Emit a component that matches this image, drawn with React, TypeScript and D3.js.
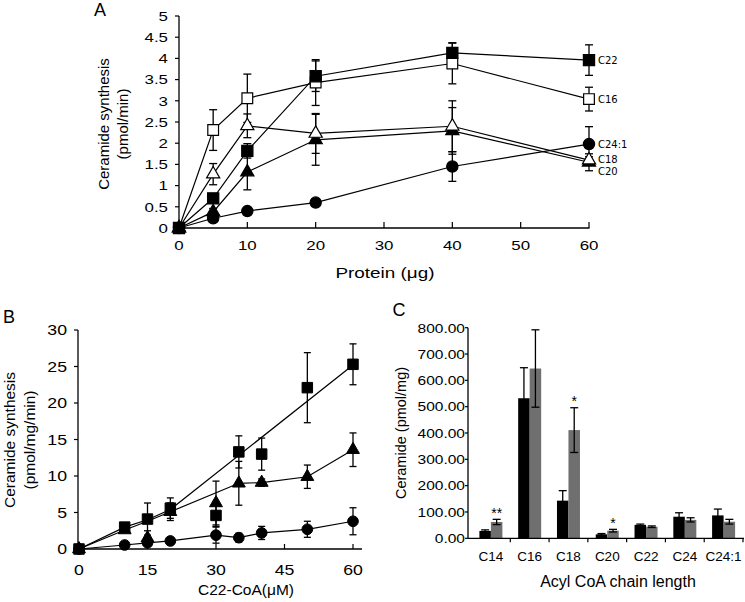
import React from 'react';
import * as d3 from 'd3';

const SANS = '"Liberation Sans", Arial, Helvetica, sans-serif';
const DJV = '"DejaVu Sans", Verdana, sans-serif';

// ---------------- Panel A: ceramide synthesis vs protein ----------------
const proteinUg = [0, 5, 10, 20, 40, 60];
const aNames = ['C22', 'C16', 'C18', 'C20', 'C24:1'];
const aC22 = [0, 0.7, 1.82, 3.58, 4.13, 3.96];
const aC22Err = [0, 0.08, 0.17, 0.36, 0.24, 0.36];
const aC16 = [0, 2.31, 3.06, 3.43, 3.88, 3.04];
const aC16Err = [0, 0.48, 0.57, 0.54, 0.48, 0.28];
const aC18 = [0, 1.27, 2.41, 2.23, 2.4, 1.6];
const aC18Err = [0, 0.25, 0.28, 0.47, 0.6, 0.08];
const aC20 = [0, 0.38, 1.32, 2.08, 2.29, 1.55];
const aC20Err = [0, 0.08, 0.42, 0.6, 0.55, 0.2];
const aC241 = [0, 0.23, 0.4, 0.6, 1.45, 1.98];
const aC241Err = [0, 0.06, 0.06, 0.08, 0.35, 0.41];
const aXTicks = [0, 10, 20, 30, 40, 50, 60];
const aYTicks = [0, 0.5, 1, 1.5, 2, 2.5, 3, 3.5, 4, 4.5, 5];

// ---------------- Panel B: ceramide synthesis vs C22-CoA ----------------
const concUM = [0, 10, 15, 20, 30, 35, 40, 50, 60];
const bSquare = [0, 3.0, 4.1, 5.6, 4.6, 13.3, 13.0, 22.1, 25.3];
const bSquareErr = [0, 0.4, 2.2, 1.4, 1.5, 2.2, 2.2, 4.8, 2.8];
const bSquareFitX = [0, 10, 15, 20, 60];
const bSquareFitY = [0, 3.0, 4.0, 5.4, 25.2];
const bTri = [0, 2.6, 1.5, 5.1, 6.3, 9.0, 9.1, 9.9, 13.6];
const bTriErr = [0, 0.3, 1.0, 1.2, 3.0, 3.0, 0.5, 1.6, 2.3];
const bTriFitX = [0, 10, 15, 20, 35, 40, 50, 60];
const bTriFitY = [0, 2.6, 3.8, 5.1, 9.0, 9.1, 9.9, 13.6];
const bCircle = [0, 0.55, 0.85, 1.1, 1.9, 1.55, 2.2, 2.7, 3.8];
const bCircleErr = [0, 0.2, 0.4, 0.4, 1.1, 0.6, 0.9, 1.1, 1.85];
const bXTicks = [0, 15, 30, 45, 60];
const bYTicks = [0, 5, 10, 15, 20, 25, 30];

// ---------------- Panel C: ceramide by acyl chain ----------------
const acylChains = ['C14', 'C16', 'C18', 'C20', 'C22', 'C24', 'C24:1'];
const cBlack = [28, 532, 143, 15, 51, 82, 87];
const cBlackErr = [4, 116, 38, 3, 3, 15, 24];
const cGrey = [62, 645, 411, 29, 44, 70, 63];
const cGreyErr = [10, 147, 85, 5, 3, 8, 9];
const cSignif = ['**', '', '*', '*', '', '', ''];
const cYTicks = [0, 100, 200, 300, 400, 500, 600, 700, 800];

type Shape = 'square' | 'tri' | 'circle';

function symPath(shape: Shape, size: number) {
  const t = shape === 'square' ? d3.symbolSquare : shape === 'tri' ? d3.symbolTriangle : d3.symbolCircle;
  return d3.symbol().type(t).size(size)() as string;
}

function SText(props: {
  x: number; y: number; sx?: number; size: number; anchor?: string; family?: string;
  rotate?: boolean; weight?: string; children: React.ReactNode; ls?: number;
}) {
  const { x, y, sx = 1, size, anchor = 'middle', family = SANS, rotate, weight, ls } = props;
  const tf = rotate
    ? `translate(${x},${y}) scale(1,${sx}) rotate(-90)`
    : `translate(${x},${y}) scale(${sx},1)`;
  return (
    <text transform={tf} fontSize={size} fontFamily={family} textAnchor={anchor as any}
      fill="#000" fontWeight={weight} letterSpacing={ls}>
      {props.children}
    </text>
  );
}

function ErrBar({ x, y0, y1, cap = 8, sw = 1.3 }: { x: number; y0: number; y1: number; cap?: number; sw?: number }) {
  return (
    <g stroke="#000" strokeWidth={sw}>
      <line x1={x} x2={x} y1={y0} y2={y1} />
      <line x1={x - cap / 2} x2={x + cap / 2} y1={y0} y2={y0} />
      <line x1={x - cap / 2} x2={x + cap / 2} y1={y1} y2={y1} />
    </g>
  );
}

function PanelA() {
  const x = d3.scaleLinear().domain([0, 60]).range([179, 589]);
  const y = d3.scaleLinear().domain([0, 5]).range([228, 16]);
  const series = [
    { name: aNames[4], v: aC241, e: aC241Err, shape: 'circle' as Shape, fill: '#000', size: 100, dy: 0 },
    { name: aNames[3], v: aC20, e: aC20Err, shape: 'tri' as Shape, fill: '#000', size: 75, dy: 9 },
    { name: aNames[2], v: aC18, e: aC18Err, shape: 'tri' as Shape, fill: '#fff', size: 75, dy: -1 },
    { name: aNames[1], v: aC16, e: aC16Err, shape: 'square' as Shape, fill: '#fff', size: 115, dy: 0 },
    { name: aNames[0], v: aC22, e: aC22Err, shape: 'square' as Shape, fill: '#000', size: 125, dy: 0 },
  ];
  const line = d3.line<number>().x((_, i) => x(proteinUg[i])).y((d) => y(d));
  const n = proteinUg.length;
  return (
    <g>
      <SText x={100} y={16} size={18}>A</SText>
      {/* axes */}
      <line x1={179} x2={179} y1={y(5)} y2={y(0)} stroke="#000" strokeWidth={1.3} />
      <line x1={179} x2={589.5} y1={228} y2={228} stroke="#000" strokeWidth={1.3} />
      {aYTicks.map((t) => (
        <g key={t}>
          <line x1={175} x2={179} y1={y(t)} y2={y(t)} stroke="#000" strokeWidth={1.2} />
          <SText x={168} y={y(t) + 4.8} size={13.5} sx={1.25} anchor="end">{String(t)}</SText>
        </g>
      ))}
      {aXTicks.map((t) => (
        <g key={t}>
          <line x1={x(t)} x2={x(t)} y1={222} y2={228} stroke="#000" strokeWidth={1.2} />
          <SText x={x(t)} y={249.5} size={13.5} sx={1.25}>{String(t)}</SText>
        </g>
      ))}
      <SText x={385} y={278} size={14} sx={1.35}>Protein (μg)</SText>
      <SText x={109} y={124} size={15} rotate>Ceramide synthesis</SText>
      <SText x={128} y={124} size={15} rotate>(pmol/min)</SText>
      {series.map((s) => (
        <path key={'l' + s.name} d={line(s.v) as string} fill="none" stroke="#000" strokeWidth={1.2} />
      ))}
      {series.map((s) => (
        <g key={'e' + s.name}>
          {s.v.map((v, i) => s.e[i] > 0 ? (
            <ErrBar key={i} x={x(proteinUg[i])} y0={y(v + s.e[i])} y1={y(v - s.e[i])} />
          ) : null)}
        </g>
      ))}
      {series.map((s) => (
        <g key={'m' + s.name}>
          {s.v.map((v, i) => (
            <path key={i} d={symPath(s.shape, s.size)} transform={`translate(${x(proteinUg[i])},${y(v)})`}
              fill={s.fill} stroke="#000" strokeWidth={1.2} />
          ))}
        </g>
      ))}
      {series.map((s) => (
        <SText key={'t' + s.name} x={598} y={y(s.v[n - 1]) + 4 + s.dy} size={10} anchor="start" family={DJV}>
          {s.name}
        </SText>
      ))}
    </g>
  );
}

function PanelB() {
  const x = d3.scaleLinear().domain([0, 60]).range([79, 353]);
  const y = d3.scaleLinear().domain([0, 30]).range([549, 330]);
  const fit = d3.line<[number, number]>().x((d) => x(d[0])).y((d) => y(d[1]));
  const sqFit = bSquareFitX.map((v, i) => [v, bSquareFitY[i]] as [number, number]);
  const triFit = bTriFitX.map((v, i) => [v, bTriFitY[i]] as [number, number]);
  const circLine = concUM.map((v, i) => [v, bCircle[i]] as [number, number]);
  const series = [
    { key: 'c', v: bCircle, e: bCircleErr, shape: 'circle' as Shape, size: 90 },
    { key: 't', v: bTri, e: bTriErr, shape: 'tri' as Shape, size: 72 },
    { key: 's', v: bSquare, e: bSquareErr, shape: 'square' as Shape, size: 110 },
  ];
  return (
    <g>
      <SText x={9} y={323} size={18}>B</SText>
      <line x1={78} x2={78} y1={y(30)} y2={y(0)} stroke="#000" strokeWidth={1.3} />
      <line x1={78} x2={362} y1={549} y2={549} stroke="#000" strokeWidth={1.3} />
      {bYTicks.map((t) => (
        <g key={t}>
          <line x1={74} x2={78} y1={y(t)} y2={y(t)} stroke="#000" strokeWidth={1.2} />
          <SText x={67} y={y(t) + 5.2} size={14.5} sx={1.22} anchor="end">{String(t)}</SText>
        </g>
      ))}
      {bXTicks.map((t) => (
        <g key={t}>
          <line x1={x(t)} x2={x(t)} y1={544} y2={549} stroke="#000" strokeWidth={1.2} />
          <SText x={x(t)} y={575} size={14.5} sx={1.22}>{String(t)}</SText>
        </g>
      ))}
      <SText x={246} y={595} size={15.5}>C22-CoA(μM)</SText>
      <SText x={15} y={440} size={15.5} rotate>Ceramide synthesis</SText>
      <SText x={35} y={440} size={15.5} rotate>(pmol/mg/min)</SText>
      <path d={fit(circLine) as string} fill="none" stroke="#000" strokeWidth={1.2} />
      <path d={fit(triFit) as string} fill="none" stroke="#000" strokeWidth={1.2} />
      <path d={fit(sqFit) as string} fill="none" stroke="#000" strokeWidth={1.2} />
      {series.map((s) => (
        <g key={'e' + s.key}>
          {s.v.map((v, i) => s.e[i] > 0 ? (
            <ErrBar key={i} x={x(concUM[i])} y0={y(v + s.e[i])} y1={y(Math.max(0, v - s.e[i]))} cap={7} />
          ) : null)}
        </g>
      ))}
      {series.map((s) => (
        <g key={'m' + s.key}>
          {s.v.map((v, i) => (
            <path key={i} d={symPath(s.shape, s.size)} transform={`translate(${x(concUM[i])},${y(v)})`}
              fill="#000" stroke="#000" strokeWidth={1} />
          ))}
        </g>
      ))}
    </g>
  );
}

function PanelC() {
  const x = d3.scaleBand<string>().domain(acylChains).range([471.5, 743]);
  const y = d3.scaleLinear().domain([0, 800]).range([538.3, 327.7]);
  const bw = 11.5;
  const grey = '#6f6f6f';
  return (
    <g>
      <SText x={399} y={316} size={18}>C</SText>
      <line x1={468} x2={468} y1={y(800)} y2={y(0)} stroke="#000" strokeWidth={1.3} />
      {cYTicks.map((t) => (
        <g key={t}>
          <line x1={465} x2={468} y1={y(t)} y2={y(t)} stroke="#000" strokeWidth={1.2} />
          <SText x={465} y={y(t) + 4.8} size={13.5} sx={1.15} anchor="end">{t.toFixed(2)}</SText>
        </g>
      ))}
      {acylChains.map((c, i) => {
        const cx = (x(c) as number) + x.bandwidth() / 2;
        return (
          <g key={c}>
            <rect x={cx - bw} y={y(cBlack[i])} width={bw} height={y(0) - y(cBlack[i])} fill="#000" />
            <rect x={cx} y={y(cGrey[i])} width={bw} height={y(0) - y(cGrey[i])} fill={grey} />
            <ErrBar x={cx - bw / 2} y0={y(cBlack[i] + cBlackErr[i])} y1={y(cBlack[i] - cBlackErr[i])} cap={8} />
            <ErrBar x={cx + bw / 2} y0={y(cGrey[i] + cGreyErr[i])} y1={y(cGrey[i] - cGreyErr[i])} cap={8} />
            {cSignif[i] ? (
              <SText x={cx + bw / 2} y={y(cGrey[i] + cGreyErr[i]) - 1.5} size={14}>{cSignif[i]}</SText>
            ) : null}
            <SText x={cx} y={561} size={13.5}>{c}</SText>
          </g>
        );
      })}
      <line x1={468} x2={744} y1={y(0)} y2={y(0)} stroke="#000" strokeWidth={1.3} />
      {[...acylChains.map((c) => x(c) as number), 743].slice(1).map((bx, i) => (
        <line key={i} x1={bx} x2={bx} y1={y(0)} y2={y(0) + 4} stroke="#000" strokeWidth={1.2} />
      ))}
      <SText x={618} y={587} size={16}>Acyl CoA chain length</SText>
      <SText x={406} y={433} size={14.5} rotate>Ceramide  (pmol/mg)</SText>
    </g>
  );
}

export default function App() {
  return (
    <svg width={745} height={602} viewBox="0 0 745 602"
      style={{ position: 'absolute', left: 0, top: 0, background: '#fff' }}>
      <rect width={745} height={602} fill="#fff" />
      <PanelA />
      <PanelB />
      <PanelC />
    </svg>
  );
}
